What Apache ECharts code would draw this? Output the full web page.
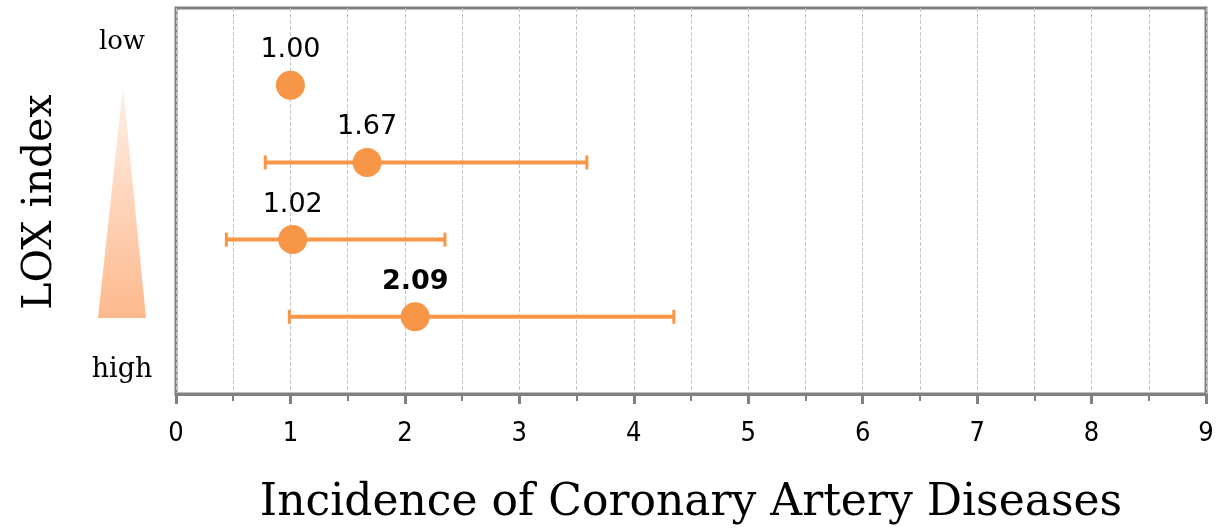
<!DOCTYPE html>
<html lang="en">
<head>
    <meta charset="UTF-8">
    <title>LOX index</title>
    <script src="https://cdn.jsdelivr.net/npm/echarts@6/dist/echarts.min.js"></script>
</head>
<body style="margin:0">
<div id="main" style="width: 1218px;height:531px;"></div>
<script type="text/javascript">
    // data, top row first
    var groups = ['Q1', 'Q2', 'Q3', 'Q4'];
    var rowPos = [4, 3, 2, 1];
    var risk = [1.00, 1.67, 1.02, 2.09];
    var ciLow = [null, 0.78, 0.44, 0.99];
    var ciHigh = [null, 3.59, 2.35, 4.35];
    var xTicks = [0, 1, 2, 3, 4, 5, 6, 7, 8, 9];

    var orange = '#f79646';
    var myChart = echarts.init(document.getElementById('main'));

    var points = risk.map(function (v, i) { return [v, rowPos[i], groups[i]]; });
    var bars = [];
    for (var i = 0; i < groups.length; i++) {
        if (ciLow[i] != null) bars.push([ciLow[i], ciHigh[i], rowPos[i]]);
    }

    var option = {
        animation: false,
        grid: {
            left: 176, right: 12, top: 8, bottom: 136,
            show: true, borderColor: '#808080', borderWidth: 3
        },
        xAxis: {
            type: 'value',
            min: xTicks[0], max: xTicks[xTicks.length - 1], interval: 1,
            name: 'Incidence of Coronary Artery Diseases',
            nameLocation: 'middle', nameGap: 88,
            nameTextStyle: { fontFamily: 'DejaVu Serif', fontSize: 44, color: '#000' },
            axisLine: { lineStyle: { color: '#808080', width: 3 } },
            axisTick: { length: 10, lineStyle: { color: '#808080', width: 3 } },
            minorTick: { show: true, splitNumber: 2, length: 7, lineStyle: { color: '#808080', width: 2 } },
            axisLabel: { fontFamily: 'DejaVu Sans Condensed', fontSize: 27, color: '#000', margin: 26 },
            splitLine: { show: true, lineStyle: { color: '#c4c4c4', type: 'dashed', width: 1 } },
            minorSplitLine: { show: true, lineStyle: { color: '#c4c4c4', type: 'dashed', width: 1 } }
        },
        yAxis: {
            type: 'value', min: 0, max: 5,
            axisLine: { show: false }, axisTick: { show: false },
            axisLabel: { show: false }, splitLine: { show: false }
        },
        graphic: [
            {
                type: 'text',
                x: 40, y: 202, rotation: Math.PI / 2,
                style: { x: 0, y: 0, text: 'LOX index', font: '41px "DejaVu Serif"', fill: '#000', align: 'center', verticalAlign: 'middle' }
            },
            {
                type: 'text',
                style: { x: 122, y: 42, text: 'low', font: '26px "DejaVu Serif"', fill: '#000', align: 'center', verticalAlign: 'middle' }
            },
            {
                type: 'text',
                style: { x: 122, y: 370, text: 'high', font: '27px "DejaVu Serif"', fill: '#000', align: 'center', verticalAlign: 'middle' }
            },
            {
                type: 'polygon',
                shape: { points: [[123, 86], [146, 318], [98, 318]] },
                style: {
                    fill: new echarts.graphic.LinearGradient(0, 0, 0, 1, [
                        { offset: 0, color: '#fef0e8' },
                        { offset: 1, color: '#fdb98d' }
                    ])
                }
            }
        ],
        series: [
            {
                type: 'custom',
                data: bars,
                z: 2,
                renderItem: function (params, api) {
                    var y = api.value(2);
                    var a = api.coord([api.value(0), y]);
                    var b = api.coord([api.value(1), y]);
                    var h = 7;
                    var cap = { stroke: orange, lineWidth: 3 };
                    return {
                        type: 'group',
                        children: [
                            { type: 'line', shape: { x1: a[0], y1: a[1], x2: b[0], y2: b[1] }, style: { stroke: orange, lineWidth: 4 } },
                            { type: 'line', shape: { x1: a[0], y1: a[1] - h, x2: a[0], y2: a[1] + h }, style: cap },
                            { type: 'line', shape: { x1: b[0], y1: b[1] - h, x2: b[0], y2: b[1] + h }, style: cap }
                        ]
                    };
                }
            },
            {
                type: 'scatter',
                data: points,
                z: 3,
                symbolSize: 29,
                itemStyle: { color: orange, opacity: 1 },
                label: {
                    show: true, position: 'top', distance: 7,
                    fontFamily: 'DejaVu Sans', fontSize: 27, color: '#000',
                    formatter: function (p) { return p.value[0].toFixed(2); }
                }
            }
        ]
    };
    // the last estimate is printed in bold
    option.series[1].data[3] = {
        value: points[3],
        label: { fontWeight: 'bold' }
    };

    myChart.setOption(option);
</script>
</body>
</html>
